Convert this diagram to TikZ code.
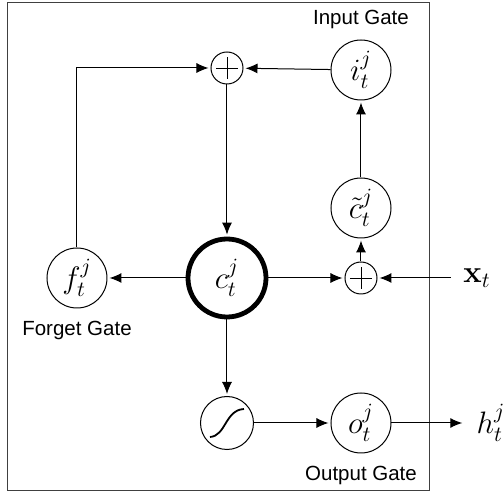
\documentclass[tikz,border=0pt]{standalone}
\usepackage{fix-cm}
\usepackage[no-math]{fontspec}
\usepackage{amsmath,amssymb}
\usetikzlibrary{arrows.meta,positioning}
\newfontfamily\gatefont{Liberation Sans}
\newcommand{\termsize}{\fontsize{15.5}{18}\selectfont}

\tikzset{
  gate/.style={circle,draw,line width=0.5pt,minimum size=30pt,inner sep=0pt,font=\termsize},
  adder/.style={circle,draw,line width=0.5pt,minimum size=16pt,inner sep=0pt,
    path picture={\draw[line width=0.4pt] (-5.3pt,0pt) -- (5.3pt,0pt) (0pt,-5.3pt) -- (0pt,5.3pt);}},
  squash/.style={circle,draw,line width=0.5pt,minimum size=26.5pt,inner sep=0pt,
    path picture={\draw[line width=0.9pt] (-8.5pt,-7pt) .. controls (-0.5pt,-6.5pt) and (-1pt,6.5pt) .. (8.5pt,7pt);}},
  gatelabel/.style={font=\gatefont\fontsize{10.25}{12}\selectfont,inner sep=0pt},
  ioterm/.style={font=\termsize,inner sep=6pt},
  flow/.style={-{Latex[length=6pt,width=5pt]},line width=0.5pt,shorten >=1pt}
}

\begin{document}
\begin{tikzpicture}[on grid, node distance=67pt]

  \useasboundingbox (-113.5pt,-107pt) rectangle (138.5pt,139pt);
  \draw[line width=0.5pt,black!75] (-109.5pt,-106.5pt) rectangle (101pt,137.5pt);

  \node[gate, line width=2.4pt, minimum size=39pt] (ct) {$c_t^j$};
  \node[adder] (plusin) [right=of ct] {};
  \node[adder] (plustop) [above=105pt of ct] {};
  \node[gate] (ctil) [above=35pt of plusin] {$\tilde{c}_t^j$};
  \node[gate] (it) [above=69pt of ctil] {$i_t^j$};
  \node[gate] (ft) [left=75pt of ct] {$f_t^j$};
  \node[squash] (sig) [below=72.5pt of ct] {};
  \node[gate] (ot) [right=of sig] {$o_t^j$};
  \node[ioterm] (xt) [right=58pt of plusin] {$\mathbf{x}_t$};
  \node[ioterm] (ht) [right=65pt of ot] {$h_t^j$};

  \node[gatelabel] (lbinput) [above=25.5pt of it] {Input Gate};
  \node[gatelabel] (lbforget) [below=26pt of ft] {Forget Gate};
  \node[gatelabel] (lboutput) [below=26pt of ot] {Output Gate};

  \path[flow]
    (plustop) edge (ct)
    (it) edge (plustop)
    (ctil) edge (it)
    (plusin) edge (ctil)
    (ct) edge (plusin)
    (xt) edge (plusin)
    (ct) edge (ft)
    (ct) edge (sig)
    (sig) edge (ot)
    (ot) edge (ht);

  \draw[flow] (ft) |- (plustop);

\end{tikzpicture}
\end{document}
